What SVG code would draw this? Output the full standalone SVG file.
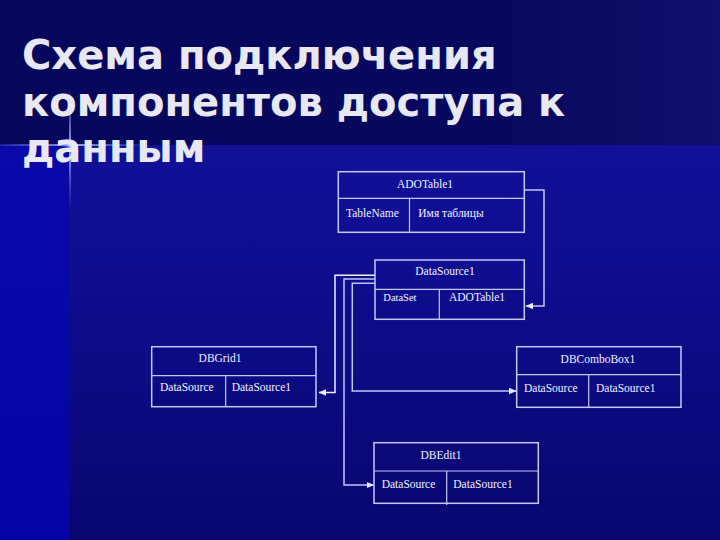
<svg xmlns="http://www.w3.org/2000/svg" width="720" height="540" viewBox="0 0 720 540">
  <defs>
    <linearGradient id="topBand" x1="0" y1="0" x2="1" y2="0">
      <stop offset="0" stop-color="#06065c"/>
      <stop offset="0.7" stop-color="#08085f"/>
      <stop offset="1" stop-color="#10106c"/>
    </linearGradient>
    <linearGradient id="mainBand" x1="0" y1="0" x2="0" y2="1">
      <stop offset="0" stop-color="#1414a4"/>
      <stop offset="0.5" stop-color="#0e0e90"/>
      <stop offset="1" stop-color="#07076f"/>
    </linearGradient>
    <linearGradient id="leftBand" x1="0" y1="0" x2="0" y2="1">
      <stop offset="0" stop-color="#0a0aa8"/>
      <stop offset="1" stop-color="#0404a4"/>
    </linearGradient>
    <linearGradient id="flareV" x1="0" y1="0" x2="0" y2="1">
      <stop offset="0" stop-color="#6a8aff" stop-opacity="0"/>
      <stop offset="0.5" stop-color="#a8c0ff" stop-opacity="0.9"/>
      <stop offset="1" stop-color="#6a8aff" stop-opacity="0"/>
    </linearGradient>
    <linearGradient id="flareH" x1="0" y1="0" x2="1" y2="0">
      <stop offset="0" stop-color="#6a8aff" stop-opacity="0.2"/>
      <stop offset="0.5" stop-color="#a8c0ff" stop-opacity="0.9"/>
      <stop offset="1" stop-color="#6a8aff" stop-opacity="0"/>
    </linearGradient>
    <radialGradient id="glow">
      <stop offset="0" stop-color="#c8d8ff" stop-opacity="0.8"/>
      <stop offset="1" stop-color="#4060ff" stop-opacity="0"/>
    </radialGradient>
    <marker id="arrow" markerUnits="userSpaceOnUse" markerWidth="8" markerHeight="8" viewBox="0 0 8 8" refX="7" refY="4" orient="auto">
      <path d="M0,0.8 L7.5,4 L0,7.2 Z" fill="#e8ecff"/>
    </marker>
    <style>
      .box { fill: none; stroke: #c4c8f4; stroke-width: 1.5; }
      .sep { stroke: #c4c8f4; stroke-width: 1.2; }
      .lbl { font-family: "Liberation Serif", "Times New Roman", serif; font-size: 11.5px; fill: #f2f2ff; }
      .ttl { text-anchor: middle; }
      .title { font-family: "DejaVu Sans", Verdana, sans-serif; font-weight: bold; font-size: 40px; fill: #e8e8f2; }
      .wire { fill: none; stroke: #c0c6f4; stroke-width: 1.5; }
      .wire-w { fill: none; stroke: #eef0ff; stroke-width: 1.5; }
    </style>
  </defs>

  <!-- background -->
  <rect x="0" y="0" width="720" height="540" fill="url(#mainBand)"/>
  <rect x="0" y="0" width="720" height="145" fill="url(#topBand)"/>
  <rect x="0" y="145" width="70" height="395" fill="url(#leftBand)"/>
  <rect x="69" y="85" width="2" height="125" fill="url(#flareV)"/>
  <rect x="0" y="144" width="150" height="2" fill="url(#flareH)"/>
  <circle cx="70" cy="145" r="8" fill="url(#glow)"/>

  <!-- title -->
  <g id="title" class="title">
    <text x="22" y="69">Схема подключения</text>
    <text x="22" y="116">компонентов доступа к</text>
    <text x="22" y="162">данным</text>
  </g>

  <!-- connectors -->
  <g id="connectors">
    <path class="wire" d="M524.3,190 H544 V306 H526" marker-end="url(#arrow)"/>
    <path class="wire-w" d="M375,275.3 H335 V392.5 H319" marker-end="url(#arrow)"/>
    <path class="wire" d="M375,279 H344 V485 H373.5" marker-end="url(#arrow)"/>
    <path class="wire" d="M375,283.3 H352.3 V391 H516" marker-end="url(#arrow)"/>
  </g>

  <!-- nodes -->
  <g id="ADOTable1">
    <rect class="box" x="338.3" y="171.7" width="186" height="60.6"/>
    <line class="sep" x1="338.3" y1="198.3" x2="524.3" y2="198.3"/>
    <line class="sep" x1="409.5" y1="198.3" x2="409.5" y2="232.3"/>
    <text class="lbl ttl" x="425" y="188">ADOTable1</text>
    <text class="lbl" x="346" y="217.3">TableName</text>
    <text class="lbl" x="418.3" y="217.3">Имя таблицы</text>
  </g>

  <g id="DataSource1">
    <rect class="box" x="375" y="260" width="149.3" height="59.3"/>
    <line class="sep" x1="375" y1="289.3" x2="524.3" y2="289.3"/>
    <line class="sep" x1="439.3" y1="289.3" x2="439.3" y2="319.3"/>
    <text class="lbl ttl" x="445" y="275">DataSource1</text>
    <text class="lbl" x="383.3" y="301" style="font-size:10.5px">DataSet</text>
    <text class="lbl" x="449" y="301">ADOTable1</text>
  </g>

  <g id="DBGrid1">
    <rect class="box" x="151.7" y="346.7" width="164.3" height="60"/>
    <line class="sep" x1="151.7" y1="375.7" x2="316" y2="375.7"/>
    <line class="sep" x1="225.7" y1="375.7" x2="225.7" y2="406.7"/>
    <text class="lbl ttl" x="220" y="362.3">DBGrid1</text>
    <text class="lbl" x="160" y="391">DataSource</text>
    <text class="lbl" x="231.7" y="391">DataSource1</text>
  </g>

  <g id="DBComboBox1">
    <rect class="box" x="516.7" y="346.7" width="164.3" height="60.6"/>
    <line class="sep" x1="516.7" y1="374.7" x2="681" y2="374.7"/>
    <line class="sep" x1="588.7" y1="374.7" x2="588.7" y2="407.3"/>
    <text class="lbl ttl" x="598" y="362.7">DBComboBox1</text>
    <text class="lbl" x="524" y="391.7">DataSource</text>
    <text class="lbl" x="596" y="391.7">DataSource1</text>
  </g>

  <g id="DBEdit1">
    <rect class="box" x="374" y="442.7" width="164.3" height="60.6"/>
    <line class="sep" x1="374" y1="471" x2="538.3" y2="471"/>
    <line class="sep" x1="446.7" y1="471" x2="446.7" y2="505"/>
    <text class="lbl ttl" x="441" y="459">DBEdit1</text>
    <text class="lbl" x="381.7" y="488.3">DataSource</text>
    <text class="lbl" x="453.3" y="488.3">DataSource1</text>
  </g>
</svg>
